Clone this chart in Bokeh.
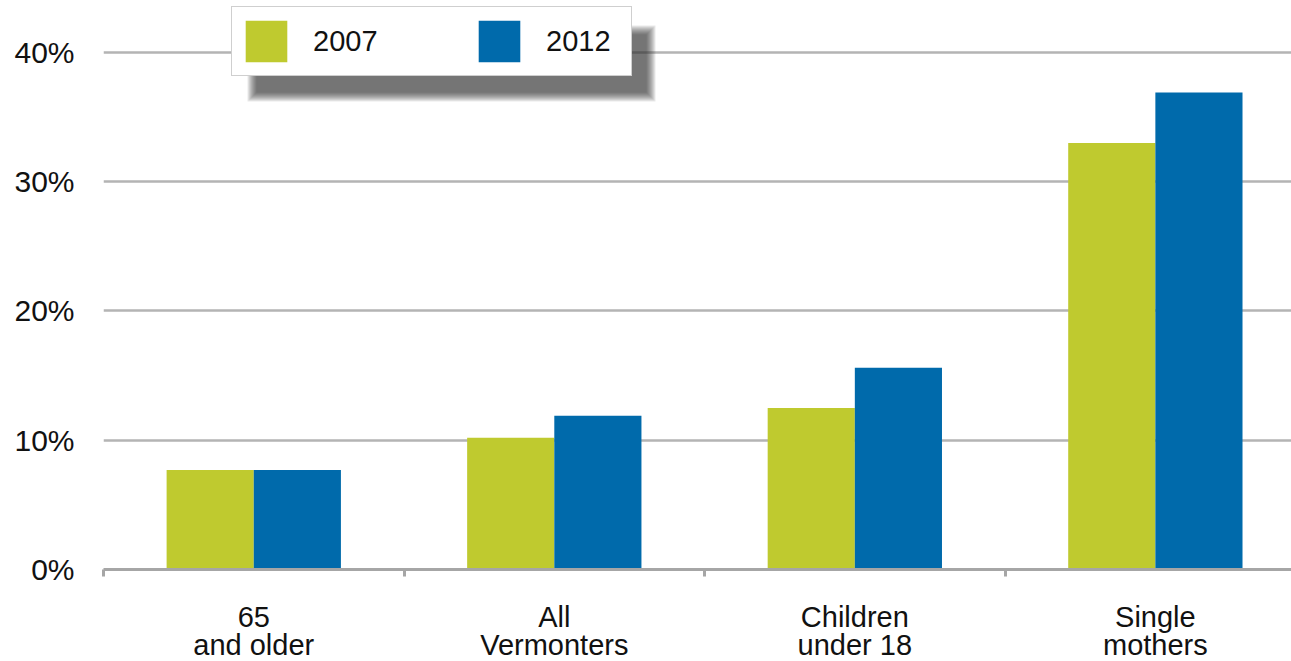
from bokeh.plotting import figure
from bokeh.models import (Range1d, FixedTicker, Legend, LegendItem, BoxAnnotation)
from bokeh.embed import file_html
from bokeh.resources import INLINE

categories = ["65\nand older", "All\nVermonters", "Children\nunder 18", "Single\nmothers"]
series_names = ["2007", "2012"]
values_2007 = [7.7, 10.2, 12.5, 33.0]
values_2012 = [7.7, 11.9, 15.6, 36.9]
y_ticks = [0, 10, 20, 30, 40]
y_tick_labels = ["0%", "10%", "20%", "30%", "40%"]

GREEN = "#bfca2f"
BLUE = "#006aab"
FONT = "Liberation Sans"

FW, FH = 1188, 569
X_END = 3.953
Y_END = 44.02

p = figure(frame_width=FW, frame_height=FH, output_backend="svg", toolbar_location=None,
           x_range=Range1d(0, X_END), y_range=Range1d(0, Y_END),
           min_border_left=103, min_border_right=0, min_border_top=0, min_border_bottom=92)
p.outline_line_color = None
p.background_fill_color = "white"
p.border_fill_color = "white"

bw = 0.29
centers = [i + 0.5 for i in range(len(categories))]
x07 = [c - bw / 2 for c in centers]
x12 = [c + bw / 2 for c in centers]
r1 = p.vbar(x=x07, top=values_2007, bottom=0, width=bw, fill_color=GREEN, line_color=None)
r2 = p.vbar(x=x12, top=values_2012, bottom=0, width=bw, fill_color=BLUE, line_color=None)

# axes
xa = p.xaxis[0]
xa.ticker = FixedTicker(ticks=centers, minor_ticks=[float(i) for i in range(len(categories))])
xa.major_label_overrides = {c: lab for c, lab in zip(centers, categories)}
xa.axis_line_color = "#a6a6a6"
xa.axis_line_width = 3
xa.major_tick_line_color = None
xa.major_tick_out = 0
xa.major_tick_in = 0
xa.minor_tick_out = 7
xa.minor_tick_in = 0
xa.minor_tick_line_color = "#a6a6a6"
xa.minor_tick_line_width = 3
xa.major_label_text_font = FONT
xa.major_label_text_font_size = "29px"
xa.major_label_text_color = "#111111"
xa.major_label_text_line_height = 0.9
xa.major_label_standoff = 24

ya = p.yaxis[0]
ya.ticker = FixedTicker(ticks=y_ticks)
ya.major_label_overrides = {t: lab for t, lab in zip(y_ticks, y_tick_labels)}
ya.axis_line_color = None
ya.major_tick_line_color = None
ya.minor_tick_line_color = None
ya.major_tick_out = 0
ya.major_tick_in = 0
ya.major_label_text_font = FONT
ya.major_label_text_font_size = "30px"
ya.major_label_text_color = "#111111"
ya.major_label_standoff = 29

p.xgrid.grid_line_color = None
p.ygrid.ticker = FixedTicker(ticks=y_ticks)
p.ygrid.grid_line_color = "#b4b4b4"
p.ygrid.grid_line_width = 2.5

# legend shadow (decoration), pixel -> data helpers
def dx(px):
    return (px - 103) * X_END / FW

def dy(py):
    return (569 - py) * Y_END / FH

for k in range(10):
    p.add_layout(BoxAnnotation(left=dx(256 - k), right=dx(646 + k), top=dy(34 - k), bottom=dy(92 + k),
                               fill_color="#303030", fill_alpha=0.1, line_color=None))

legend = Legend(items=[LegendItem(label=series_names[0], renderers=[r1]),
                       LegendItem(label=series_names[1], renderers=[r2])],
                orientation="horizontal", location=(128, 493),
                glyph_width=52, glyph_height=52, label_standoff=21, label_width=77,
                spacing=83, padding=8, margin=0,
                label_text_font=FONT, label_text_font_size="29px", label_text_color="#111111",
                border_line_color="#a0a0a0", border_line_width=1.5,
                background_fill_color="white", background_fill_alpha=1.0)
p.add_layout(legend, "center")

open("out.html", "w").write(file_html(p, INLINE))
